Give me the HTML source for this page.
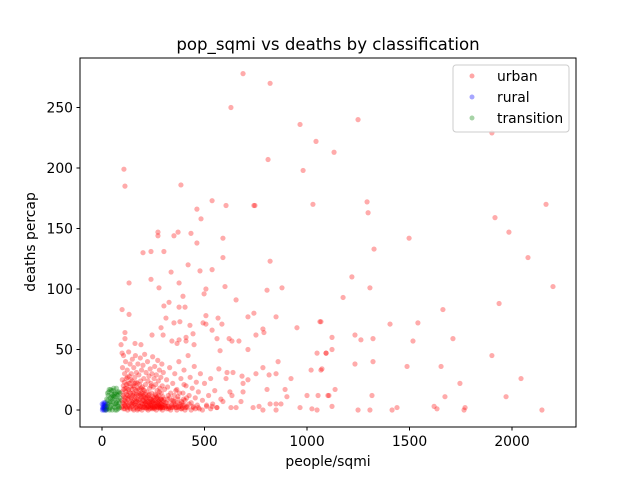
<!DOCTYPE html>
<html><head><meta charset="utf-8"><style>
body{margin:0;background:#fff;}
svg text{font-family:"DejaVu Sans","Liberation Sans",sans-serif;fill:#000;}
</style></head><body>
<svg id="chart" width="640" height="480" xmlns="http://www.w3.org/2000/svg">
<rect width="640" height="480" fill="#fff"/>
<text x="328" y="50" font-size="16.6" text-anchor="middle">pop_sqmi vs deaths by classification</text>
<g id="marks"></g>
<rect x="80" y="58" width="496" height="369" fill="none" stroke="#000" stroke-width="1"/>
<g id="axes"></g>
<text x="328" y="466" font-size="13.9" text-anchor="middle">people/sqmi</text>
<text transform="translate(35,242) rotate(-90)" font-size="13.9" text-anchor="middle">deaths percap</text>
<g>
<rect x="453" y="65" width="116" height="67" rx="3" fill="#fff" fill-opacity="0.8" stroke="#ccc"/>
<circle cx="472" cy="76" r="2.5" fill="#f00" fill-opacity="0.35"/>
<text x="497" y="81" font-size="13.9">urban</text>
<circle cx="472" cy="97" r="2.5" fill="#00f" fill-opacity="0.35"/>
<text x="497" y="102" font-size="13.9">rural</text>
<circle cx="472" cy="118" r="2.5" fill="#008000" fill-opacity="0.35"/>
<text x="497" y="123" font-size="13.9">transition</text>
</g>
</svg>
<script>
const xTicks=[0,500,1000,1500,2000];
const yTicks=[0,50,100,150,200,250];
const urbanOutliers=[[688,278],[820,270],[629,250],[966,236],[1044,222],[1132,213],[1249,240],[810,207],[981,198],[107,199],[112,185],[385,186],[1029,170],[1293,172],[1298,163],[605,169],[741,169],[1327,133],[1498,142],[1902,229],[2166,170],[1917,159],[1985,147],[2078,126],[2200,102],[1937,88],[1902,45],[2044,26],[1971,11],[2146,0],[1771,2],[1766,0],[1746,22],[1712,59],[1663,83],[1654,36],[1673,11],[1488,36],[1517,57],[1541,72],[1405,71],[1219,110],[1307,101],[1176,93],[1122,60],[1234,62],[1263,58],[1322,59],[1122,50],[1093,47],[1073,34],[1234,38],[1322,40],[1137,17],[1107,12],[1317,12],[1122,3],[1249,0],[1307,0],[1415,0],[1439,2],[1620,3],[1634,1],[1068,73],
[537,173],[746,169],[463,166],[483,158],[273,147],[273,144],[371,147],[351,144],[434,146],[463,138],[590,142],[590,126],[820,123],[200,130],[239,131],[302,131],[420,120],[478,115],[537,116],[337,114],[132,105],[239,108],[278,101],[376,105],[600,102],[507,100],[498,96],[395,94],[805,99],[878,101],[654,91],[327,89],[302,86],[376,85],[405,85],[98,83],[132,79],[312,76],[507,78],[566,76],[712,77],[741,80],[849,77],[351,72],[380,73],[493,72],[507,71],[585,71],[429,70],[288,68],[537,66],[785,67],[790,64],[951,68],[1063,73],[112,64],[244,62],[298,62],[444,63],[751,62],[561,59],[620,59],[634,57],[668,57],[410,60],[410,57],[341,57],[376,58],[366,55],[112,59],[93,54],[161,55],[190,54],[449,54],[712,50],[576,49],[1049,47],[1093,47],[98,47],
[859,40],[1020,33],[1068,33],[785,35],[815,29],[849,30],[922,26],[751,30],[683,28],[712,25],[688,22],[639,31],[605,26],[610,31],[805,17],[893,17],[902,11],[1000,12],[1054,12],[1102,12],[849,5],[820,5],[873,5],[737,2],[766,3],[785,0],[849,0],[966,2],[1024,1],[1049,0],[629,2],[654,2],[590,7],[624,15],[688,15],[634,12],[678,7],[537,3],[561,2]];
const urbanCluster=[[95,2],[97,8],[98,15],[99,25],[100,35],[102,3],[104,20],[105,45],[107,11],[108,5],[110,30],[112,1],[113,18],[115,40],[117,7],[118,26],[120,13],[122,2],[123,33],[125,9],[127,22],[128,4],[130,48],[132,15],[133,28],[135,6],[137,38],[138,1],[140,19],[142,10],[143,30],[145,3],[147,24],[148,42],[150,8],[152,14],[153,1],[155,35],[157,20],[158,5],[160,27],[162,11],[163,45],[165,2],[167,16],[168,31],[170,7],[172,22],[173,0],[175,38],[177,12],[178,4],[180,29],[182,17],[184,1],[185,9],[187,43],[188,24],[190,6],[192,14],[193,33],[195,2],[197,19],[198,8],[200,37],[202,12],[204,26],[205,3],[207,16],[208,46],[210,5],[212,21],[214,10],[215,31],[217,1],[219,15],[220,7],[222,40],[224,24],[225,3],[227,12],[229,28],[230,6],[232,18],[234,1],[235,34],[237,9],[239,22],[240,4],[242,14],[244,30],[245,2],[247,44],[249,11],[250,19],[252,6],[254,26],[255,1],[257,36],[259,13],[260,8],[262,21],[264,3],[265,29],[267,10],[269,16],[270,2],[272,41],[274,7],[275,24],[277,12],[279,4],[280,33],[282,18],[284,1],[285,9],[287,27],[289,14],[290,5],[292,38],[294,20],[295,2],[297,11],[299,31],[300,7],[305,17],[310,3],[315,25],[320,9],[325,1],[330,35],[335,14],[340,4],[345,22],[350,8],[355,30],[360,2],[365,17],[370,11],[375,40],[380,5],[385,26],[390,1],[395,14],[400,33],[405,8],[410,20],[415,3],[420,45],[425,12],[430,27],[435,6],[440,18],[445,2],[450,36],[455,10],[460,23],[465,4],[470,15],[475,1],[480,30],[490,8],[500,22],[510,3],[520,12],[530,26],[540,5],[550,16],[560,2],[570,34],[580,9],
[105,1],[115,3],[125,0],[135,2],[145,5],[155,0],[165,4],[175,1],[185,3],[195,0],[205,5],[215,2],[225,0],[235,4],[245,1],[255,3],[265,0],[275,5],[285,2],[295,0],[305,4],[315,1],[325,3],[335,0],[345,2],[355,4],[365,0],[375,3],[385,1],[395,4],[405,0],[415,2],[425,5],[435,0],[445,3],[455,1],[470,2],[490,0],[510,4],[530,1],
[110,8],[130,10],[150,6],[170,9],[190,11],[210,7],[230,10],[250,8],[270,11],[290,9],[310,6],[330,10],[350,7],[370,9],[390,6],[120,18],[160,22],[200,17],[240,20],[280,15],[320,19],[360,16],[400,21],
[100,6],[103,12],[106,17],[109,23],[111,4],[114,10],[116,15],[119,21],[121,6],[124,27],[126,12],[129,17],[131,3],[134,22],[136,11],[139,14],[141,25],[144,7],[146,17],[149,12],[151,20],[154,4],[156,13],[159,9],[161,17],[164,7],[166,23],[169,13],[171,3],[174,18],[176,8],[179,14],[181,6],[183,21],[186,13],[189,3],[191,18],[194,10],[196,5],[199,14],[201,2],[203,8],[206,11],[209,2],[211,13],[213,6],[216,9],[218,4],[221,11],[223,2],[226,7],[228,3],[231,13],[233,5],[236,7],[238,2],[241,9],[243,6],[246,3],[248,7],[251,2],[253,10],[256,5],[258,2],[261,6],[263,12],[266,4],[268,6],[271,3],[273,9],[276,2],[278,8],[281,3],[283,6],[286,2],[288,5],[291,3],[293,8],[296,4],[298,2],[303,9],[308,2],[313,6],[318,3],[323,12],[328,2],[333,6],[338,2],[343,8],[348,3],[353,12],[358,5],[363,2],[368,6],[373,2],[378,14],[383,3],[388,7],[393,2],[398,9],[403,4],[408,2],[413,10]];
const rural=[[2,0],[5,1],[8,2],[10,0],[12,3],[15,1],[18,4],[20,0],[22,2],[6,4],[11,5],[16,6],[3,2],[14,0],[24,1],[9,6],[19,3],[25,5],[1,5],[13,2]];
const transition=[[20,0],[25,3],[28,8],[30,12],[33,15],[35,1],[38,6],[40,10],[42,17],[45,4],[48,13],[50,0],[52,7],[55,16],[58,11],[60,2],[62,9],[65,14],[68,5],[70,18],[72,0],[75,8],[78,12],[80,3],[82,15],[85,6],[88,10],[30,5],[40,2],[50,9],[60,13],[70,6],[80,1],[35,17],[45,11],[55,3],[65,0],[75,15],[85,2],[27,14],[43,7],[57,18],[67,11],[77,4],[23,9],[47,16],[63,5],[73,13],[83,8],[37,0],[53,12],[87,14]];

const NS='http://www.w3.org/2000/svg';
function sx(v){return 102+v*0.205;}
function sy(v){return 410-v*1.21;}
const marks=document.getElementById('marks');
function plot(arr,color,name){
  arr.forEach(function(p){
    const c=document.createElementNS(NS,'circle');
    c.setAttribute('cx',sx(p[0]));c.setAttribute('cy',sy(p[1]));
    c.setAttribute('r',2.6);c.setAttribute('fill',color);c.setAttribute('fill-opacity',0.33);
    
    
    marks.appendChild(c);
  });
}
plot(urbanOutliers,'#f00','urban-point');
plot(urbanCluster,'#f00','urban-point');
plot(rural,'#00f','rural-point');
plot(transition,'#008000','transition-point');
const axes=document.getElementById('axes');
xTicks.forEach(function(t){
  const x=sx(t);
  const l=document.createElementNS(NS,'line');
  l.setAttribute('x1',x);l.setAttribute('x2',x);l.setAttribute('y1',427);l.setAttribute('y2',430.5);l.setAttribute('stroke','#000');
  
  
  axes.appendChild(l);
  const tx=document.createElementNS(NS,'text');
  tx.setAttribute('x',x);tx.setAttribute('y',446);tx.setAttribute('font-size','13.9');tx.setAttribute('text-anchor','middle');
  tx.textContent=t;
  
  
  axes.appendChild(tx);
});
yTicks.forEach(function(t){
  const y=sy(t);
  const l=document.createElementNS(NS,'line');
  l.setAttribute('x1',76.5);l.setAttribute('x2',80);l.setAttribute('y1',y);l.setAttribute('y2',y);l.setAttribute('stroke','#000');
  
  
  axes.appendChild(l);
  const tx=document.createElementNS(NS,'text');
  tx.setAttribute('x',73);tx.setAttribute('y',y+5);tx.setAttribute('font-size','13.9');tx.setAttribute('text-anchor','end');
  tx.textContent=t;
  
  
  axes.appendChild(tx);
});
</script>
</body></html>
